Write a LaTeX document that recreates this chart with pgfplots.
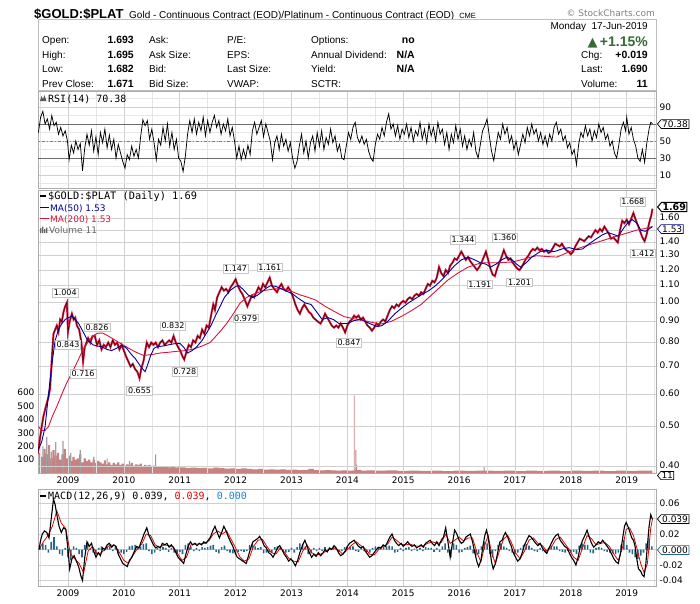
\documentclass[border=0pt]{standalone}
\usepackage{pgfplots}
\pgfplotsset{compat=1.18}
\usepackage{pgfplotstable}
\usepackage{fontspec}
\setmainfont{Liberation Sans}
\newfontfamily\vf{DejaVu Sans}
\newfontfamily\vmono{DejaVu Sans Mono}
\usetikzlibrary{shapes.symbols}
\definecolor{maBlue}{RGB}{0,0,150}
\definecolor{maRed}{RGB}{220,20,60}
\definecolor{pxRed}{RGB}{215,25,60}
\definecolor{volPink}{RGB}{200,130,130}
\definecolor{volGray}{RGB}{160,160,160}
\definecolor{gridc}{RGB}{208,208,208}
\definecolor{gridm}{RGB}{230,230,230}
\definecolor{upGreen}{RGB}{55,105,55}
\definecolor{histc}{RGB}{35,100,135}
\definecolor{sigRed}{RGB}{230,0,0}
\definecolor{zeroBlue}{RGB}{30,130,200}

\pgfplotstableread[row sep=\\]{x y\\
2008.46 0.43\\ 2008.50 0.47\\ 2008.53 0.50\\ 2008.56 0.53\\ 2008.59 0.55\\ 2008.62 0.57\\ 2008.65 0.59\\ 2008.68 0.62\\
2008.71 0.73\\ 2008.74 0.84\\ 2008.77 0.86\\ 2008.80 0.88\\ 2008.83 0.85\\ 2008.86 0.91\\ 2008.89 0.90\\ 2008.92 0.95\\
2008.95 0.98\\ 2008.98 1.00\\ 2009.00 0.85\\ 2009.03 0.90\\ 2009.07 0.94\\ 2009.10 0.91\\ 2009.13 0.92\\ 2009.16 0.88\\
2009.20 0.86\\ 2009.24 0.80\\ 2009.27 0.72\\ 2009.30 0.78\\ 2009.33 0.80\\ 2009.36 0.82\\ 2009.40 0.80\\ 2009.44 0.83\\
2009.48 0.83\\ 2009.52 0.79\\ 2009.56 0.81\\ 2009.60 0.77\\ 2009.64 0.79\\ 2009.68 0.78\\ 2009.72 0.80\\ 2009.76 0.78\\
2009.80 0.81\\ 2009.84 0.79\\ 2009.88 0.80\\ 2009.92 0.77\\ 2009.96 0.79\\ 2010.00 0.765\\ 2010.04 0.74\\ 2010.08 0.72\\
2010.12 0.70\\ 2010.16 0.71\\ 2010.20 0.69\\ 2010.24 0.68\\ 2010.28 0.655\\ 2010.31 0.69\\ 2010.35 0.72\\ 2010.38 0.76\\
2010.41 0.80\\ 2010.45 0.78\\ 2010.49 0.80\\ 2010.53 0.79\\ 2010.57 0.80\\ 2010.61 0.78\\ 2010.65 0.80\\ 2010.69 0.81\\
2010.73 0.79\\ 2010.77 0.80\\ 2010.81 0.81\\ 2010.85 0.80\\ 2010.89 0.83\\ 2010.93 0.80\\ 2010.97 0.78\\ 2011.01 0.765\\
2011.05 0.74\\ 2011.08 0.728\\ 2011.12 0.76\\ 2011.16 0.79\\ 2011.20 0.78\\ 2011.24 0.81\\ 2011.28 0.80\\ 2011.32 0.83\\
2011.36 0.82\\ 2011.40 0.86\\ 2011.44 0.84\\ 2011.48 0.88\\ 2011.52 0.87\\ 2011.56 0.93\\ 2011.60 0.99\\ 2011.63 0.96\\
2011.67 1.03\\ 2011.71 1.06\\ 2011.75 1.09\\ 2011.79 1.07\\ 2011.83 1.08\\ 2011.87 1.06\\ 2011.91 1.09\\ 2011.95 1.11\\
2012.00 1.14\\ 2012.04 1.10\\ 2012.08 1.07\\ 2012.12 1.05\\ 2012.16 1.02\\ 2012.21 0.98\\ 2012.25 1.01\\ 2012.29 1.04\\
2012.33 1.03\\ 2012.37 1.06\\ 2012.41 1.09\\ 2012.45 1.07\\ 2012.49 1.11\\ 2012.53 1.09\\ 2012.57 1.12\\ 2012.61 1.15\\
2012.65 1.10\\ 2012.69 1.08\\ 2012.74 1.06\\ 2012.78 1.09\\ 2012.82 1.11\\ 2012.86 1.08\\ 2012.90 1.07\\ 2012.94 1.09\\
2012.98 1.07\\ 2013.03 1.03\\ 2013.07 0.99\\ 2013.11 0.96\\ 2013.15 0.94\\ 2013.19 0.97\\ 2013.23 0.99\\ 2013.27 0.97\\
2013.31 0.95\\ 2013.35 0.94\\ 2013.39 0.92\\ 2013.43 0.91\\ 2013.47 0.90\\ 2013.52 0.89\\ 2013.56 0.91\\ 2013.60 0.94\\
2013.64 0.92\\ 2013.68 0.90\\ 2013.72 0.88\\ 2013.76 0.87\\ 2013.80 0.88\\ 2013.84 0.87\\ 2013.88 0.89\\ 2013.92 0.87\\
2013.96 0.847\\ 2014.00 0.88\\ 2014.04 0.90\\ 2014.08 0.91\\ 2014.12 0.93\\ 2014.16 0.92\\ 2014.20 0.93\\ 2014.24 0.91\\
2014.28 0.92\\ 2014.32 0.90\\ 2014.36 0.88\\ 2014.40 0.87\\ 2014.44 0.855\\ 2014.48 0.87\\ 2014.52 0.89\\ 2014.56 0.88\\
2014.60 0.90\\ 2014.64 0.91\\ 2014.68 0.90\\ 2014.72 0.93\\ 2014.76 0.96\\ 2014.80 0.98\\ 2014.84 0.97\\ 2014.88 0.99\\
2014.92 0.98\\ 2014.96 1.00\\ 2015.00 1.01\\ 2015.04 1.00\\ 2015.08 1.02\\ 2015.12 1.03\\ 2015.16 1.02\\ 2015.20 1.04\\
2015.24 1.05\\ 2015.28 1.04\\ 2015.32 1.06\\ 2015.36 1.05\\ 2015.40 1.08\\ 2015.44 1.11\\ 2015.48 1.10\\ 2015.52 1.13\\
2015.56 1.12\\ 2015.60 1.15\\ 2015.64 1.22\\ 2015.68 1.18\\ 2015.72 1.16\\ 2015.76 1.20\\ 2015.80 1.18\\ 2015.84 1.23\\
2015.88 1.25\\ 2015.92 1.28\\ 2015.96 1.27\\ 2016.00 1.30\\ 2016.04 1.33\\ 2016.08 1.30\\ 2016.12 1.27\\ 2016.16 1.29\\
2016.20 1.26\\ 2016.24 1.24\\ 2016.28 1.22\\ 2016.32 1.20\\ 2016.36 1.22\\ 2016.40 1.25\\ 2016.44 1.29\\ 2016.48 1.33\\
2016.52 1.27\\ 2016.56 1.21\\ 2016.60 1.17\\ 2016.64 1.16\\ 2016.68 1.21\\ 2016.72 1.25\\ 2016.76 1.29\\ 2016.80 1.34\\
2016.84 1.30\\ 2016.88 1.27\\ 2016.92 1.28\\ 2016.96 1.25\\ 2017.00 1.23\\ 2017.04 1.21\\ 2017.08 1.20\\ 2017.12 1.22\\
2017.16 1.25\\ 2017.20 1.28\\ 2017.24 1.30\\ 2017.28 1.33\\ 2017.32 1.35\\ 2017.36 1.34\\ 2017.40 1.36\\ 2017.44 1.34\\
2017.48 1.35\\ 2017.52 1.33\\ 2017.56 1.34\\ 2017.60 1.32\\ 2017.64 1.33\\ 2017.68 1.36\\ 2017.72 1.39\\ 2017.76 1.38\\
2017.80 1.37\\ 2017.84 1.39\\ 2017.88 1.36\\ 2017.92 1.34\\ 2017.96 1.33\\ 2018.00 1.31\\ 2018.04 1.33\\ 2018.08 1.37\\
2018.12 1.40\\ 2018.16 1.43\\ 2018.20 1.42\\ 2018.24 1.41\\ 2018.28 1.43\\ 2018.32 1.45\\ 2018.36 1.44\\ 2018.40 1.47\\
2018.44 1.50\\ 2018.48 1.48\\ 2018.52 1.51\\ 2018.56 1.49\\ 2018.60 1.53\\ 2018.64 1.50\\ 2018.68 1.47\\ 2018.72 1.43\\
2018.76 1.44\\ 2018.80 1.42\\ 2018.84 1.40\\ 2018.88 1.50\\ 2018.92 1.58\\ 2018.96 1.56\\ 2019.00 1.59\\ 2019.04 1.55\\
2019.08 1.60\\ 2019.12 1.65\\ 2019.16 1.59\\ 2019.20 1.54\\ 2019.24 1.49\\ 2019.28 1.44\\ 2019.32 1.41\\ 2019.36 1.47\\
2019.40 1.56\\ 2019.44 1.63\\ 2019.46 1.69\\
}\price

\pgfplotstableread[row sep=\\]{x y\\
2008.47 0.44\\ 2008.53 0.46\\ 2008.59 0.50\\ 2008.64 0.58\\ 2008.68 0.65\\ 2008.73 0.74\\ 2008.77 0.81\\ 2008.83 0.86\\
2008.89 0.89\\ 2008.95 0.91\\ 2009.01 0.92\\ 2009.07 0.928\\ 2009.13 0.91\\ 2009.19 0.89\\ 2009.27 0.85\\ 2009.35 0.81\\
2009.45 0.79\\ 2009.52 0.785\\ 2009.60 0.782\\ 2009.70 0.77\\ 2009.78 0.765\\ 2009.87 0.775\\ 2009.96 0.79\\ 2010.05 0.775\\
2010.13 0.75\\ 2010.21 0.73\\ 2010.30 0.70\\ 2010.38 0.68\\ 2010.43 0.71\\ 2010.48 0.745\\ 2010.54 0.775\\ 2010.60 0.782\\
2010.70 0.785\\ 2010.80 0.79\\ 2010.90 0.795\\ 2011.00 0.797\\ 2011.07 0.78\\ 2011.14 0.755\\ 2011.22 0.765\\ 2011.30 0.78\\
2011.40 0.81\\ 2011.48 0.844\\ 2011.56 0.88\\ 2011.64 0.93\\ 2011.72 0.978\\ 2011.80 1.03\\ 2011.90 1.07\\ 2012.00 1.095\\
2012.06 1.10\\ 2012.14 1.075\\ 2012.22 1.045\\ 2012.30 1.03\\ 2012.38 1.04\\ 2012.46 1.06\\ 2012.55 1.085\\ 2012.63 1.10\\
2012.72 1.095\\ 2012.82 1.08\\ 2012.92 1.065\\ 2013.02 1.05\\ 2013.12 1.025\\ 2013.25 0.998\\ 2013.35 0.99\\ 2013.45 0.95\\
2013.55 0.91\\ 2013.65 0.92\\ 2013.75 0.91\\ 2013.85 0.89\\ 2014.00 0.89\\ 2014.12 0.905\\ 2014.25 0.91\\ 2014.40 0.89\\
2014.53 0.875\\ 2014.62 0.88\\ 2014.72 0.90\\ 2014.85 0.94\\ 2014.97 0.97\\ 2015.10 1.00\\ 2015.25 1.03\\ 2015.35 1.05\\
2015.46 1.07\\ 2015.58 1.10\\ 2015.70 1.14\\ 2015.80 1.18\\ 2015.92 1.23\\ 2016.04 1.27\\ 2016.16 1.29\\ 2016.28 1.27\\
2016.38 1.25\\ 2016.48 1.24\\ 2016.56 1.22\\ 2016.66 1.24\\ 2016.76 1.27\\ 2016.86 1.29\\ 2016.95 1.27\\ 2017.03 1.24\\
2017.10 1.22\\ 2017.20 1.25\\ 2017.30 1.29\\ 2017.45 1.33\\ 2017.57 1.34\\ 2017.70 1.33\\ 2017.84 1.35\\ 2017.97 1.36\\
2018.10 1.345\\ 2018.21 1.35\\ 2018.33 1.39\\ 2018.46 1.43\\ 2018.56 1.46\\ 2018.66 1.48\\ 2018.76 1.465\\ 2018.85 1.45\\
2018.95 1.52\\ 2019.03 1.57\\ 2019.10 1.59\\ 2019.18 1.56\\ 2019.25 1.50\\ 2019.33 1.49\\ 2019.40 1.51\\ 2019.46 1.53\\
}\maf

\pgfplotstableread[row sep=\\]{x y\\
2008.47 0.50\\ 2008.53 0.49\\ 2008.59 0.49\\ 2008.65 0.50\\ 2008.72 0.53\\ 2008.80 0.56\\ 2008.89 0.60\\ 2008.98 0.64\\
2009.07 0.675\\ 2009.17 0.72\\ 2009.27 0.77\\ 2009.35 0.80\\ 2009.44 0.83\\ 2009.53 0.843\\ 2009.62 0.844\\ 2009.72 0.83\\
2009.85 0.81\\ 2009.95 0.795\\ 2010.05 0.78\\ 2010.20 0.76\\ 2010.35 0.745\\ 2010.50 0.748\\ 2010.65 0.755\\ 2010.80 0.758\\
2010.95 0.762\\ 2011.10 0.765\\ 2011.25 0.772\\ 2011.40 0.785\\ 2011.54 0.80\\ 2011.65 0.83\\ 2011.75 0.86\\ 2011.84 0.89\\
2011.96 0.94\\ 2012.08 0.998\\ 2012.20 1.03\\ 2012.33 1.05\\ 2012.50 1.07\\ 2012.70 1.08\\ 2012.86 1.08\\ 2013.00 1.065\\
2013.15 1.045\\ 2013.30 1.03\\ 2013.43 1.015\\ 2013.60 0.98\\ 2013.78 0.95\\ 2013.94 0.925\\ 2014.10 0.915\\ 2014.30 0.905\\
2014.45 0.895\\ 2014.60 0.888\\ 2014.78 0.90\\ 2014.96 0.925\\ 2015.14 0.955\\ 2015.32 0.99\\ 2015.56 1.06\\ 2015.80 1.135\\
2015.98 1.18\\ 2016.16 1.22\\ 2016.40 1.25\\ 2016.70 1.25\\ 2016.95 1.255\\ 2017.15 1.275\\ 2017.38 1.30\\ 2017.55 1.295\\
2017.75 1.29\\ 2017.92 1.32\\ 2018.10 1.35\\ 2018.28 1.375\\ 2018.46 1.40\\ 2018.64 1.425\\ 2018.82 1.45\\ 2019.00 1.475\\
2019.18 1.50\\ 2019.34 1.515\\ 2019.46 1.53\\
}\mat

\pgfplotstableread[row sep=\\]{x y\\
2008.48 150\\ 2008.52 120\\ 2008.56 180\\ 2008.60 140\\ 2008.64 210\\ 2008.68 110\\ 2008.72 170\\ 2008.76 130\\
2008.80 150\\ 2008.84 100\\ 2008.88 140\\ 2008.92 180\\ 2008.96 110\\ 2009.00 130\\ 2009.04 90\\ 2009.08 120\\
2009.12 100\\ 2009.16 110\\ 2009.20 140\\ 2009.24 80\\ 2009.28 110\\ 2009.32 90\\ 2009.36 100\\ 2009.40 80\\
2009.44 100\\ 2009.48 75\\ 2009.52 90\\ 2009.56 80\\ 2009.60 70\\ 2009.64 95\\ 2009.68 65\\ 2009.72 80\\
2009.76 60\\ 2009.80 75\\ 2009.84 65\\ 2009.88 80\\ 2009.92 60\\ 2009.96 70\\ 2010.00 55\\ 2010.04 65\\
2010.08 60\\ 2010.12 75\\ 2010.16 55\\ 2010.20 65\\ 2010.24 60\\ 2010.28 70\\ 2010.32 50\\ 2010.36 60\\
2010.40 55\\ 2010.44 60\\ 2010.48 50\\ 2010.52 55\\ 2010.56 140\\ 2010.575 50\\ 2010.64 45\\ 2010.68 50\\
2010.72 45\\ 2010.76 48\\ 2010.80 42\\ 2010.84 46\\ 2010.88 44\\ 2010.92 40\\ 2010.96 45\\ 2011.00 42\\
2011.10 38\\ 2011.20 40\\ 2011.30 36\\ 2011.40 38\\ 2011.50 34\\ 2011.60 40\\ 2011.70 36\\ 2011.80 32\\
2011.90 35\\ 2012.00 30\\ 2012.10 34\\ 2012.20 30\\ 2012.30 28\\ 2012.40 30\\ 2012.50 26\\ 2012.60 28\\
2012.70 25\\ 2012.80 27\\ 2012.90 24\\ 2013.00 26\\ 2013.10 22\\ 2013.20 24\\ 2013.30 30\\ 2013.40 22\\
2013.50 20\\ 2013.60 22\\ 2013.70 20\\ 2013.80 18\\ 2013.90 20\\ 2014.00 18\\ 2014.10 20\\ 2014.115 580\\
2014.13 20\\ 2014.145 170\\ 2014.16 60\\ 2014.175 22\\ 2014.25 18\\ 2014.35 20\\ 2014.50 17\\ 2014.70 19\\
2014.90 16\\ 2015.10 18\\ 2015.30 16\\ 2015.50 18\\ 2015.70 15\\ 2015.90 17\\ 2016.10 16\\ 2016.30 18\\
2016.44 52\\ 2016.455 17\\ 2016.60 16\\ 2016.80 18\\ 2017.00 15\\ 2017.20 17\\ 2017.40 16\\ 2017.60 18\\
2017.80 15\\ 2018.00 17\\ 2018.20 16\\ 2018.40 18\\ 2018.60 15\\ 2018.80 17\\ 2019.00 16\\ 2019.20 18\\
2019.46 17\\
}\vol

\pgfplotstableread[row sep=\\]{x y\\
2008.55 200\\ 2008.62 270\\ 2008.66 170\\ 2008.70 160\\ 2008.78 230\\ 2008.91 240\\ 2009.05 150\\ 2009.22 170\\
2009.46 120\\ 2009.70 110\\ 2010.10 90\\
}\volg

\pgfplotstableread[row sep=\\]{x y\\
2008.47 60\\ 2008.51 78\\ 2008.55 85\\ 2008.59 70\\ 2008.63 76\\ 2008.67 64\\ 2008.71 80\\ 2008.75 68\\
2008.79 72\\ 2008.83 58\\ 2008.87 66\\ 2008.91 56\\ 2008.95 62\\ 2008.99 50\\ 2009.02 28\\ 2009.06 45\\
2009.10 36\\ 2009.14 50\\ 2009.18 40\\ 2009.22 47\\ 2009.26 15\\ 2009.30 42\\ 2009.34 58\\ 2009.38 45\\
2009.42 62\\ 2009.46 38\\ 2009.50 55\\ 2009.54 34\\ 2009.58 60\\ 2009.62 48\\ 2009.66 64\\ 2009.70 42\\
2009.74 57\\ 2009.78 40\\ 2009.82 52\\ 2009.86 30\\ 2009.90 46\\ 2009.94 36\\ 2009.98 26\\ 2010.02 18\\
2010.06 34\\ 2010.10 28\\ 2010.14 44\\ 2010.18 32\\ 2010.22 40\\ 2010.26 30\\ 2010.30 55\\ 2010.34 75\\
2010.38 68\\ 2010.42 74\\ 2010.46 52\\ 2010.50 64\\ 2010.54 48\\ 2010.58 28\\ 2010.62 52\\ 2010.66 45\\
2010.70 66\\ 2010.74 50\\ 2010.78 70\\ 2010.82 44\\ 2010.86 60\\ 2010.90 40\\ 2010.94 52\\ 2010.98 30\\
2011.02 26\\ 2011.06 14\\ 2011.10 32\\ 2011.14 58\\ 2011.18 74\\ 2011.22 60\\ 2011.26 76\\ 2011.30 58\\
2011.34 72\\ 2011.38 62\\ 2011.42 78\\ 2011.46 56\\ 2011.50 74\\ 2011.54 60\\ 2011.58 72\\ 2011.62 80\\
2011.66 66\\ 2011.70 74\\ 2011.74 58\\ 2011.78 70\\ 2011.82 62\\ 2011.86 76\\ 2011.90 56\\ 2011.94 66\\
2011.98 50\\ 2012.02 30\\ 2012.06 44\\ 2012.10 28\\ 2012.14 40\\ 2012.18 30\\ 2012.22 45\\ 2012.26 34\\
2012.30 62\\ 2012.34 72\\ 2012.38 58\\ 2012.42 66\\ 2012.46 74\\ 2012.50 55\\ 2012.54 70\\ 2012.58 60\\
2012.62 50\\ 2012.66 28\\ 2012.70 48\\ 2012.74 56\\ 2012.78 40\\ 2012.82 58\\ 2012.86 44\\ 2012.90 52\\
2012.94 38\\ 2012.98 48\\ 2013.02 30\\ 2013.06 18\\ 2013.10 26\\ 2013.14 44\\ 2013.18 58\\ 2013.22 36\\
2013.26 50\\ 2013.30 30\\ 2013.34 48\\ 2013.38 56\\ 2013.42 38\\ 2013.46 60\\ 2013.50 44\\ 2013.54 62\\
2013.58 40\\ 2013.62 54\\ 2013.66 46\\ 2013.70 64\\ 2013.74 48\\ 2013.78 56\\ 2013.82 38\\ 2013.86 46\\
2013.90 30\\ 2013.94 28\\ 2013.98 44\\ 2014.02 60\\ 2014.06 52\\ 2014.10 66\\ 2014.14 72\\ 2014.18 54\\
2014.22 48\\ 2014.26 56\\ 2014.30 46\\ 2014.34 52\\ 2014.38 38\\ 2014.42 30\\ 2014.46 26\\ 2014.50 46\\
2014.54 58\\ 2014.58 52\\ 2014.62 66\\ 2014.66 56\\ 2014.70 72\\ 2014.74 82\\ 2014.78 64\\ 2014.82 70\\
2014.86 56\\ 2014.90 68\\ 2014.94 52\\ 2014.98 64\\ 2015.02 58\\ 2015.06 70\\ 2015.10 54\\ 2015.14 66\\
2015.18 50\\ 2015.22 62\\ 2015.26 56\\ 2015.30 72\\ 2015.34 52\\ 2015.38 64\\ 2015.42 48\\ 2015.46 70\\
2015.50 56\\ 2015.54 66\\ 2015.58 50\\ 2015.62 72\\ 2015.66 58\\ 2015.70 64\\ 2015.74 46\\ 2015.78 60\\
2015.82 40\\ 2015.86 58\\ 2015.90 48\\ 2015.94 68\\ 2015.98 52\\ 2016.02 64\\ 2016.06 44\\ 2016.10 56\\
2016.14 40\\ 2016.18 52\\ 2016.22 44\\ 2016.26 60\\ 2016.30 38\\ 2016.34 30\\ 2016.38 46\\ 2016.42 62\\
2016.46 68\\ 2016.50 76\\ 2016.54 56\\ 2016.58 38\\ 2016.62 27\\ 2016.66 44\\ 2016.70 60\\ 2016.74 52\\
2016.78 70\\ 2016.82 58\\ 2016.86 66\\ 2016.90 48\\ 2016.94 56\\ 2016.98 40\\ 2017.02 50\\ 2017.06 34\\
2017.10 46\\ 2017.14 58\\ 2017.18 48\\ 2017.22 66\\ 2017.26 56\\ 2017.30 70\\ 2017.34 58\\ 2017.38 64\\
2017.42 50\\ 2017.46 60\\ 2017.50 46\\ 2017.54 56\\ 2017.58 44\\ 2017.62 58\\ 2017.66 50\\ 2017.70 66\\
2017.74 72\\ 2017.78 58\\ 2017.82 64\\ 2017.86 50\\ 2017.90 56\\ 2017.94 42\\ 2017.98 48\\ 2018.02 34\\
2018.06 40\\ 2018.10 22\\ 2018.14 46\\ 2018.18 60\\ 2018.22 54\\ 2018.26 68\\ 2018.30 56\\ 2018.34 64\\
2018.38 50\\ 2018.42 62\\ 2018.46 54\\ 2018.50 70\\ 2018.54 60\\ 2018.58 66\\ 2018.62 52\\ 2018.66 58\\
2018.70 44\\ 2018.74 50\\ 2018.78 36\\ 2018.82 30\\ 2018.86 46\\ 2018.90 64\\ 2018.94 72\\ 2018.98 62\\
2019.00 78\\ 2019.04 58\\ 2019.08 66\\ 2019.12 52\\ 2019.16 44\\ 2019.20 30\\ 2019.24 26\\ 2019.28 40\\
2019.32 25\\ 2019.36 48\\ 2019.40 64\\ 2019.43 72\\ 2019.46 70.38\\
}\rsi

\pgfplotstableread[row sep=\\]{x y\\
2008.48 0.000\\ 2008.51 0.012\\ 2008.54 0.020\\ 2008.58 0.024\\ 2008.62 0.022\\ 2008.66 0.015\\ 2008.70 0.040\\ 2008.74 0.065\\
2008.77 0.058\\ 2008.80 0.045\\ 2008.84 0.030\\ 2008.88 0.022\\ 2008.92 0.028\\ 2008.96 0.026\\ 2009.00 0.000\\ 2009.03 -0.025\\
2009.07 -0.012\\ 2009.11 -0.008\\ 2009.15 -0.015\\ 2009.19 -0.022\\ 2009.23 -0.034\\ 2009.26 -0.040\\ 2009.30 -0.010\\ 2009.34 0.010\\
2009.38 0.004\\ 2009.42 0.008\\ 2009.46 -0.002\\ 2009.50 -0.010\\ 2009.54 -0.004\\ 2009.58 -0.008\\ 2009.62 0.002\\ 2009.66 0.000\\
2009.70 0.006\\ 2009.74 0.008\\ 2009.78 0.003\\ 2009.82 0.006\\ 2009.86 0.004\\ 2009.90 -0.006\\ 2009.94 -0.012\\ 2009.98 -0.018\\
2010.02 -0.020\\ 2010.06 -0.022\\ 2010.10 -0.014\\ 2010.14 -0.010\\ 2010.19 -0.002\\ 2010.23 0.004\\ 2010.27 0.002\\ 2010.31 0.010\\
2010.36 0.020\\ 2010.41 0.028\\ 2010.45 0.018\\ 2010.49 0.012\\ 2010.53 0.006\\ 2010.57 0.002\\ 2010.61 0.004\\ 2010.65 0.002\\
2010.69 0.008\\ 2010.73 0.006\\ 2010.77 0.008\\ 2010.81 0.003\\ 2010.85 0.006\\ 2010.89 0.002\\ 2010.93 -0.004\\ 2010.97 -0.010\\
2011.02 -0.014\\ 2011.07 -0.018\\ 2011.11 -0.006\\ 2011.15 0.004\\ 2011.19 0.010\\ 2011.23 0.006\\ 2011.27 0.008\\ 2011.31 0.005\\
2011.35 0.008\\ 2011.39 0.006\\ 2011.43 0.010\\ 2011.47 0.008\\ 2011.51 0.012\\ 2011.55 0.016\\ 2011.59 0.024\\ 2011.63 0.030\\
2011.67 0.022\\ 2011.71 0.015\\ 2011.75 0.022\\ 2011.79 0.030\\ 2011.83 0.024\\ 2011.87 0.016\\ 2011.91 0.010\\ 2011.95 0.004\\
2011.99 -0.004\\ 2012.03 -0.010\\ 2012.07 -0.012\\ 2012.11 -0.014\\ 2012.15 -0.016\\ 2012.19 -0.018\\ 2012.23 -0.008\\ 2012.27 0.002\\
2012.31 0.010\\ 2012.35 0.012\\ 2012.39 0.014\\ 2012.43 0.017\\ 2012.47 0.012\\ 2012.51 0.005\\ 2012.55 0.002\\ 2012.59 -0.004\\
2012.63 -0.006\\ 2012.67 -0.010\\ 2012.71 -0.004\\ 2012.75 0.002\\ 2012.79 0.005\\ 2012.83 0.000\\ 2012.87 -0.006\\ 2012.91 -0.010\\
2012.95 -0.015\\ 2012.99 -0.012\\ 2013.03 -0.016\\ 2013.07 -0.021\\ 2013.11 -0.014\\ 2013.15 -0.004\\ 2013.20 0.006\\ 2013.24 0.012\\
2013.28 0.004\\ 2013.32 -0.004\\ 2013.36 -0.010\\ 2013.40 -0.006\\ 2013.44 -0.009\\ 2013.48 -0.004\\ 2013.52 -0.008\\ 2013.56 -0.005\\
2013.60 0.000\\ 2013.64 -0.003\\ 2013.68 0.002\\ 2013.72 0.000\\ 2013.76 0.005\\ 2013.80 0.002\\ 2013.84 -0.004\\ 2013.88 -0.008\\
2013.92 -0.006\\ 2013.96 -0.002\\ 2014.00 0.004\\ 2014.04 0.008\\ 2014.08 0.010\\ 2014.12 0.012\\ 2014.16 0.008\\ 2014.20 0.004\\
2014.24 0.002\\ 2014.28 0.004\\ 2014.32 -0.002\\ 2014.36 -0.006\\ 2014.40 -0.010\\ 2014.44 -0.008\\ 2014.48 -0.004\\ 2014.52 0.000\\
2014.56 0.003\\ 2014.60 0.002\\ 2014.64 0.006\\ 2014.68 0.004\\ 2014.72 0.010\\ 2014.76 0.016\\ 2014.80 0.020\\ 2014.84 0.012\\
2014.88 0.008\\ 2014.92 0.005\\ 2014.96 0.008\\ 2015.00 0.004\\ 2015.04 0.007\\ 2015.08 0.010\\ 2015.12 0.006\\ 2015.16 0.004\\
2015.20 0.006\\ 2015.24 0.002\\ 2015.28 0.004\\ 2015.32 0.006\\ 2015.36 0.003\\ 2015.40 0.008\\ 2015.44 0.010\\ 2015.48 0.012\\
2015.52 0.008\\ 2015.56 0.005\\ 2015.60 0.010\\ 2015.64 0.005\\ 2015.68 0.012\\ 2015.72 0.016\\ 2015.76 0.028\\ 2015.80 0.010\\
2015.84 -0.010\\ 2015.88 0.008\\ 2015.92 0.025\\ 2015.96 0.020\\ 2016.00 0.012\\ 2016.04 0.008\\ 2016.08 0.010\\ 2016.12 0.016\\
2016.16 0.018\\ 2016.20 0.020\\ 2016.24 0.010\\ 2016.28 -0.004\\ 2016.32 -0.016\\ 2016.35 -0.022\\ 2016.39 -0.014\\ 2016.43 0.006\\
2016.46 0.018\\ 2016.49 0.025\\ 2016.52 0.016\\ 2016.55 0.000\\ 2016.58 -0.016\\ 2016.61 -0.025\\ 2016.65 -0.018\\ 2016.69 -0.004\\
2016.73 0.010\\ 2016.77 0.012\\ 2016.80 0.018\\ 2016.83 0.022\\ 2016.87 0.016\\ 2016.90 0.010\\ 2016.93 0.005\\ 2016.97 -0.004\\
2017.01 -0.010\\ 2017.05 -0.015\\ 2017.09 -0.012\\ 2017.13 -0.004\\ 2017.17 0.006\\ 2017.21 0.012\\ 2017.25 0.018\\ 2017.29 0.016\\
2017.33 0.012\\ 2017.37 0.008\\ 2017.41 0.005\\ 2017.45 0.008\\ 2017.49 0.002\\ 2017.53 -0.002\\ 2017.57 -0.005\\ 2017.61 0.002\\
2017.65 0.008\\ 2017.69 0.014\\ 2017.73 0.018\\ 2017.77 0.020\\ 2017.81 0.012\\ 2017.85 0.008\\ 2017.89 0.004\\ 2017.93 0.002\\
2017.97 -0.004\\ 2018.01 -0.010\\ 2018.05 -0.014\\ 2018.09 -0.020\\ 2018.13 -0.010\\ 2018.17 0.004\\ 2018.21 0.012\\ 2018.25 0.018\\
2018.29 0.025\\ 2018.33 0.016\\ 2018.37 0.008\\ 2018.41 0.003\\ 2018.45 0.006\\ 2018.49 0.010\\ 2018.53 0.008\\ 2018.57 0.012\\
2018.61 0.008\\ 2018.65 0.004\\ 2018.69 0.000\\ 2018.73 -0.006\\ 2018.77 -0.012\\ 2018.81 -0.016\\ 2018.85 -0.018\\ 2018.89 -0.004\\
2018.93 0.016\\ 2018.96 0.030\\ 2018.99 0.035\\ 2019.02 0.030\\ 2019.05 0.024\\ 2019.09 0.015\\ 2019.12 0.012\\ 2019.15 0.004\\
2019.18 -0.012\\ 2019.21 -0.025\\ 2019.25 -0.028\\ 2019.28 -0.033\\ 2019.31 -0.035\\ 2019.34 -0.020\\ 2019.37 0.005\\ 2019.40 0.030\\
2019.43 0.045\\ 2019.46 0.039\\
}\macd

\pgfplotstableread[row sep=\\]{x y\\
2008.48 0.000\\ 2008.56 0.010\\ 2008.64 0.018\\ 2008.72 0.030\\ 2008.80 0.050\\ 2008.88 0.034\\ 2008.96 0.027\\ 2009.04 -0.005\\
2009.12 -0.012\\ 2009.20 -0.018\\ 2009.28 -0.030\\ 2009.36 -0.002\\ 2009.44 0.004\\ 2009.52 -0.006\\ 2009.60 -0.004\\ 2009.68 0.002\\
2009.76 0.006\\ 2009.84 0.005\\ 2009.92 -0.004\\ 2010.00 -0.014\\ 2010.08 -0.018\\ 2010.16 -0.008\\ 2010.24 0.001\\ 2010.32 0.007\\
2010.40 0.020\\ 2010.48 0.018\\ 2010.56 0.006\\ 2010.64 0.003\\ 2010.72 0.006\\ 2010.80 0.005\\ 2010.88 0.004\\ 2010.96 -0.005\\
2011.04 -0.014\\ 2011.12 -0.010\\ 2011.20 0.006\\ 2011.28 0.007\\ 2011.36 0.007\\ 2011.44 0.008\\ 2011.52 0.011\\ 2011.60 0.020\\
2011.68 0.024\\ 2011.76 0.020\\ 2011.84 0.024\\ 2011.92 0.013\\ 2012.00 0.002\\ 2012.08 -0.010\\ 2012.16 -0.015\\ 2012.24 -0.012\\
2012.32 0.004\\ 2012.40 0.012\\ 2012.48 0.013\\ 2012.56 0.004\\ 2012.64 -0.004\\ 2012.72 -0.006\\ 2012.80 0.002\\ 2012.88 -0.004\\
2012.96 -0.012\\ 2013.04 -0.015\\ 2013.12 -0.016\\ 2013.20 -0.002\\ 2013.28 0.006\\ 2013.36 -0.004\\ 2013.44 -0.007\\ 2013.52 -0.006\\
2013.60 -0.003\\ 2013.68 0.000\\ 2013.76 0.002\\ 2013.84 -0.001\\ 2013.92 -0.006\\ 2014.00 0.000\\ 2014.08 0.006\\ 2014.16 0.010\\
2014.24 0.005\\ 2014.32 0.001\\ 2014.40 -0.006\\ 2014.48 -0.007\\ 2014.56 0.000\\ 2014.64 0.004\\ 2014.72 0.007\\ 2014.80 0.016\\
2014.88 0.012\\ 2014.96 0.007\\ 2015.04 0.006\\ 2015.12 0.007\\ 2015.20 0.005\\ 2015.28 0.004\\ 2015.36 0.005\\ 2015.44 0.008\\
2015.52 0.010\\ 2015.60 0.008\\ 2015.68 0.009\\ 2015.76 0.020\\ 2015.84 0.008\\ 2015.92 0.012\\ 2016.00 0.016\\ 2016.08 0.011\\
2016.16 0.015\\ 2016.24 0.015\\ 2016.32 -0.004\\ 2016.39 -0.016\\ 2016.46 0.006\\ 2016.52 0.018\\ 2016.58 -0.004\\ 2016.65 -0.018\\
2016.73 0.000\\ 2016.80 0.014\\ 2016.87 0.018\\ 2016.93 0.010\\ 2017.01 -0.004\\ 2017.09 -0.012\\ 2017.17 -0.002\\ 2017.25 0.012\\
2017.33 0.015\\ 2017.41 0.008\\ 2017.49 0.005\\ 2017.57 -0.002\\ 2017.65 0.003\\ 2017.73 0.013\\ 2017.81 0.016\\ 2017.89 0.008\\
2017.97 0.000\\ 2018.05 -0.010\\ 2018.13 -0.014\\ 2018.21 0.002\\ 2018.29 0.018\\ 2018.37 0.014\\ 2018.45 0.006\\ 2018.53 0.008\\
2018.61 0.009\\ 2018.69 0.004\\ 2018.77 -0.006\\ 2018.85 -0.014\\ 2018.93 0.004\\ 2018.99 0.026\\ 2019.05 0.028\\ 2019.12 0.018\\
2019.18 0.002\\ 2019.25 -0.018\\ 2019.31 -0.030\\ 2019.37 -0.018\\ 2019.43 0.028\\ 2019.46 0.039\\
}\sig

\pgfplotstableread[row sep=\\]{x y\\
2008.50 0.004\\ 2008.55 0.008\\ 2008.60 0.006\\ 2008.65 -0.004\\ 2008.70 0.010\\ 2008.75 0.016\\ 2008.80 0.004\\ 2008.85 -0.006\\
2008.90 -0.008\\ 2008.95 0.002\\ 2009.00 -0.010\\ 2009.05 -0.014\\ 2009.10 0.004\\ 2009.15 0.002\\ 2009.20 -0.006\\ 2009.25 -0.010\\
2009.30 0.006\\ 2009.35 0.010\\ 2009.40 0.002\\ 2009.45 -0.004\\ 2009.50 -0.006\\ 2009.55 0.002\\ 2009.60 0.004\\ 2009.65 -0.002\\
2009.70 0.003\\ 2009.75 0.004\\ 2009.80 -0.002\\ 2009.85 0.003\\ 2009.90 -0.005\\ 2009.95 -0.004\\ 2010.00 -0.006\\ 2010.05 -0.003\\
2010.10 0.004\\ 2010.15 0.005\\ 2010.20 0.006\\ 2010.25 0.002\\ 2010.30 0.004\\ 2010.35 0.007\\ 2010.40 0.008\\ 2010.45 -0.002\\
2010.50 -0.006\\ 2010.55 -0.004\\ 2010.60 0.002\\ 2010.65 -0.002\\ 2010.70 0.003\\ 2010.75 0.002\\ 2010.80 -0.003\\ 2010.85 0.002\\
2010.90 -0.004\\ 2010.95 -0.005\\ 2011.00 -0.003\\ 2011.05 -0.006\\ 2011.10 0.006\\ 2011.15 0.008\\ 2011.20 0.004\\ 2011.25 -0.002\\
2011.30 0.002\\ 2011.35 -0.002\\ 2011.40 0.003\\ 2011.45 0.002\\ 2011.50 0.003\\ 2011.55 0.005\\ 2011.60 0.006\\ 2011.65 -0.003\\
2011.70 -0.005\\ 2011.75 0.003\\ 2011.80 0.005\\ 2011.85 -0.002\\ 2011.90 -0.004\\ 2011.95 -0.005\\ 2012.00 -0.006\\ 2012.05 -0.003\\
2012.10 -0.002\\ 2012.15 -0.003\\ 2012.20 -0.002\\ 2012.25 0.006\\ 2012.30 0.008\\ 2012.35 0.004\\ 2012.40 0.002\\ 2012.45 0.003\\
2012.50 -0.005\\ 2012.55 -0.004\\ 2012.60 -0.003\\ 2012.65 -0.004\\ 2012.70 0.003\\ 2012.75 0.004\\ 2012.80 0.003\\ 2012.85 -0.003\\
2012.90 -0.004\\ 2012.95 -0.003\\ 2013.00 0.002\\ 2013.05 -0.004\\ 2013.10 0.003\\ 2013.15 0.008\\ 2013.20 0.007\\ 2013.25 0.004\\
2013.30 -0.006\\ 2013.35 -0.005\\ 2013.40 0.002\\ 2013.45 -0.002\\ 2013.50 0.002\\ 2013.55 -0.002\\ 2013.60 0.003\\ 2013.65 -0.002\\
2013.70 0.002\\ 2013.75 0.003\\ 2013.80 0.001\\ 2013.85 -0.003\\ 2013.90 -0.002\\ 2013.95 0.003\\ 2014.00 0.004\\ 2014.05 0.003\\
2014.10 0.004\\ 2014.15 -0.002\\ 2014.20 -0.003\\ 2014.25 0.002\\ 2014.30 -0.002\\ 2014.35 -0.003\\ 2014.40 -0.004\\ 2014.45 0.002\\
2014.50 0.004\\ 2014.55 0.003\\ 2014.60 0.002\\ 2014.65 0.003\\ 2014.70 0.004\\ 2014.75 0.005\\ 2014.80 0.004\\ 2014.85 -0.004\\
2014.90 -0.003\\ 2014.95 0.002\\ 2015.00 -0.002\\ 2015.05 0.002\\ 2015.10 0.003\\ 2015.15 -0.002\\ 2015.20 0.001\\ 2015.25 -0.002\\
2015.30 0.002\\ 2015.35 -0.002\\ 2015.40 0.003\\ 2015.45 0.002\\ 2015.50 0.002\\ 2015.55 -0.003\\ 2015.60 0.002\\ 2015.65 -0.003\\
2015.70 0.004\\ 2015.75 0.008\\ 2015.80 -0.004\\ 2015.85 -0.010\\ 2015.90 0.008\\ 2015.95 0.006\\ 2016.00 -0.004\\ 2016.05 -0.003\\
2016.10 0.002\\ 2016.15 0.003\\ 2016.20 0.005\\ 2016.25 -0.005\\ 2016.30 -0.008\\ 2016.35 -0.006\\ 2016.40 0.004\\ 2016.45 0.010\\
2016.50 0.008\\ 2016.55 -0.006\\ 2016.60 -0.010\\ 2016.65 -0.002\\ 2016.70 0.006\\ 2016.75 0.008\\ 2016.80 0.004\\ 2016.85 0.002\\
2016.90 -0.002\\ 2016.95 -0.004\\ 2017.00 -0.006\\ 2017.05 -0.004\\ 2017.10 0.002\\ 2017.15 0.006\\ 2017.20 0.007\\ 2017.25 0.005\\
2017.30 0.002\\ 2017.35 -0.002\\ 2017.40 -0.003\\ 2017.45 0.002\\ 2017.50 -0.002\\ 2017.55 -0.004\\ 2017.60 0.002\\ 2017.65 0.005\\
2017.70 0.004\\ 2017.75 0.004\\ 2017.80 -0.002\\ 2017.85 -0.003\\ 2017.90 -0.004\\ 2017.95 -0.002\\ 2018.00 -0.004\\ 2018.05 -0.003\\
2018.10 -0.006\\ 2018.15 0.005\\ 2018.20 0.008\\ 2018.25 0.006\\ 2018.30 0.006\\ 2018.35 -0.004\\ 2018.40 -0.005\\ 2018.45 0.002\\
2018.50 0.003\\ 2018.55 0.002\\ 2018.60 -0.002\\ 2018.65 -0.003\\ 2018.70 -0.004\\ 2018.75 -0.005\\ 2018.80 -0.006\\ 2018.85 -0.004\\
2018.90 0.006\\ 2018.95 0.012\\ 2019.00 0.006\\ 2019.05 -0.004\\ 2019.10 -0.006\\ 2019.15 -0.010\\ 2019.20 -0.012\\ 2019.25 -0.008\\
2019.30 -0.004\\ 2019.35 0.008\\ 2019.40 0.014\\ 2019.45 0.004\\
}\hist

\pgfplotsset{
  panel/.style={
    scale only axis, width=618pt, xmin=2008.463, xmax=2019.524,
    axis line style={draw=gray!65, line width=0.6pt},
    xtick={2009,2010,2011,2012,2013,2014,2015,2016,2017,2018,2019},
    minor xtick={2008.5,2009.5,2010.5,2011.5,2012.5,2013.5,2014.5,2015.5,2016.5,2017.5,2018.5,2019.5},
    xmajorgrids, xminorgrids, ymajorgrids,
    major grid style={draw=gridc, line width=0.6pt},
    minor grid style={draw=gridm, line width=0.5pt},
    tick style={draw=none},
    ticklabel style={font=\vf\fontsize{9}{10}\selectfont},
    /pgf/number format/assume math mode=true,
    scaled y ticks=false,
    yticklabel pos=right,
  },
}
\tikzset{
  ann/.style={draw=gray!45, fill=white, inner sep=1.3pt, line width=0.6pt,
    font=\vf\fontsize{8}{9}\selectfont},
  vbox/.style={signal, signal to=west, signal pointer angle=100, fill=white,
    inner sep=1pt, line width=0.7pt, font=\vf\fontsize{9}{10}\selectfont, anchor=west},
}

\begin{document}
\begin{tikzpicture}
\useasboundingbox (0pt,0pt) rectangle (700pt,-603pt);

% ---------- header ----------
\begin{scope}[x=1pt,y=-1pt]
\node[anchor=base west, inner sep=0, font=\bfseries\fontsize{13}{15}\selectfont] at (34,18) {\$GOLD:\$PLAT};
\node[anchor=base west, inner sep=0, font=\fontsize{10}{12}\selectfont] at (129,18) {Gold - Continuous Contract (EOD)/Platinum - Continuous Contract (EOD)\hspace{5pt}{\fontsize{7.5}{9}\selectfont CME}};
\node[anchor=base east, inner sep=0, text=gray, font=\vf\fontsize{9}{11}\selectfont] at (655,16) {© StockCharts.com};
\draw[gray!50, line width=0.6pt] (38,19) rectangle (656,90);
\begin{scope}[every node/.style={anchor=base west, inner sep=0, font=\fontsize{10}{12}\selectfont}]
\node at (42,43.5) {Open:};  \node at (42,58) {High:}; \node at (42,72.5) {Low:}; \node at (42,87) {Prev Close:};
\node at (149,43.5) {Ask:};  \node at (149,58) {Ask Size:}; \node at (149,72.5) {Bid:}; \node at (149,87) {Bid Size:};
\node at (227,43.5) {P/E:};  \node at (227,58) {EPS:}; \node at (227,72.5) {Last Size:}; \node at (227,87) {VWAP:};
\node at (311,43.5) {Options:};  \node at (311,58) {Annual Dividend:}; \node at (311,72.5) {Yield:}; \node at (311,87) {SCTR:};
\node at (581,58) {Chg:}; \node at (581,72.5) {Last:}; \node at (581,87) {Volume:};
\end{scope}
\begin{scope}[every node/.style={anchor=base east, inner sep=0, font=\bfseries\fontsize{10.5}{12}\selectfont}]
\node at (134,43.5) {1.693}; \node at (134,58) {1.695}; \node at (134,72.5) {1.682}; \node at (134,87) {1.671};
\node at (415,43.5) {no}; \node at (415,58) {N/A}; \node at (415,72.5) {N/A};
\node at (648,58) {+0.019}; \node at (648,72.5) {1.690}; \node at (648,87) {11};
\end{scope}
\node[anchor=base east, inner sep=0, font=\fontsize{10}{12}\selectfont] at (648,29.5) {Monday\ \ 17-Jun-2019};
\node[anchor=base east, inner sep=0, text=upGreen, font=\bfseries\fontsize{14}{16}\selectfont] at (648,46) {{\vf\fontsize{13}{14}\selectfont ▲}\,+1.15\%};
\end{scope}

% ---------- RSI panel ----------
\begin{axis}[panel, at={(38pt,-91pt)}, anchor=north west, height=97pt,
  ymin=-5.3, ymax=108.8, ytick={10,30,50,70,90}, yticklabels={10,30,50,,90},
  minor ytick={0,20,40,60,80,100}, yminorgrids, xticklabels={}]
\addplot[gray!85!black, line width=0.9pt] coordinates {(2008.4,70) (2019.6,70)};
\addplot[gray!85!black, line width=0.9pt] coordinates {(2008.4,30) (2019.6,30)};
\addplot[gray, line width=0.7pt, dash dot] coordinates {(2008.4,50) (2019.6,50)};
\addplot[black, line width=0.75pt] table[x=x,y=y] {\rsi};
\end{axis}

% ---------- volume (behind price) ----------
\begin{axis}[scale only axis, width=618pt, height=283pt, at={(38pt,-190pt)}, anchor=north west,
  xmin=2008.463, xmax=2019.524, ymin=0, ymax=2112,
  axis line style={draw=none}, xtick=\empty, tick style={draw=none},
  ytick={100,200,300,400,500,600}, yticklabels={100,200,300,400,500,600},
  ticklabel style={font=\vf\fontsize{9}{10}\selectfont},
  /pgf/number format/assume math mode=true]
\addplot[ybar interval, fill=volPink, draw=none] table[x=x,y=y] {\vol};
\addplot[ybar, bar width=1.2pt, fill=volGray, draw=none] table[x=x,y=y] {\volg};
\end{axis}

% ---------- price panel ----------
\begin{axis}[panel, at={(38pt,-190pt)}, anchor=north west, height=283pt,
  ymode=log, ymin=0.386, ymax=1.877,
  ytick={0.4,0.5,0.6,0.7,0.8,0.9,1.0,1.1,1.2,1.3,1.4,1.5,1.6},
  yticklabels={0.40,0.50,0.60,0.70,0.80,0.90,1.00,1.10,1.20,1.30,1.40,,1.60},
  yticklabel style={yshift=1pt},
  xticklabels={2009,2010,2011,2012,2013,2014,2015,2016,2017,2018,2019}]
\addplot[pxRed, line width=2pt] table[x=x,y=y] {\price};
\addplot[black, line width=0.35pt] table[x=x,y=y] {\price};
\addplot[maRed, line width=0.9pt] table[x=x,y=y] {\mat};
\addplot[maBlue, line width=0.9pt] table[x=x,y=y] {\maf};
\node[ann] at (axis cs:2008.95,1.056) {1.004};
\node[ann] at (axis cs:2009.00,0.790) {0.843};
\node[ann] at (axis cs:2009.27,0.672) {0.716};
\node[ann] at (axis cs:2009.52,0.871) {0.826};
\node[ann] at (axis cs:2010.28,0.612) {0.655};
\node[ann] at (axis cs:2010.88,0.880) {0.832};
\node[ann] at (axis cs:2011.09,0.680) {0.728};
\node[ann] at (axis cs:2012.00,1.207) {1.147};
\node[ann] at (axis cs:2012.61,1.219) {1.161};
\node[ann] at (axis cs:2012.18,0.917) {0.979};
\node[ann] at (axis cs:2014.03,0.798) {0.847};
\node[ann] at (axis cs:2016.07,1.419) {1.344};
\node[ann] at (axis cs:2016.37,1.108) {1.191};
\node[ann] at (axis cs:2016.82,1.438) {1.360};
\node[ann] at (axis cs:2017.08,1.121) {1.201};
\node[ann] at (axis cs:2019.11,1.758) {1.668};
\node[ann] at (axis cs:2019.29,1.318) {1.412};
\end{axis}

% ---------- MACD panel ----------
\begin{axis}[panel, at={(38pt,-489pt)}, anchor=north west, height=97pt,
  ymin=-0.0471, ymax=0.0781,
  ytick={-0.04,-0.02,0,0.02,0.04,0.06},
  yticklabels={-0.04,-0.02,,0.02,,0.06},
  xticklabels={2009,2010,2011,2012,2013,2014,2015,2016,2017,2018,2019}]
\addplot[ybar, bar width=1.6pt, fill=histc, draw=none] table[x=x,y=y] {\hist};
\addplot[sigRed, line width=0.8pt] table[x=x,y=y] {\sig};
\addplot[black, line width=1.1pt] table[x=x,y=y] {\macd};
\end{axis}

% ---------- legends and value boxes ----------
\begin{scope}[x=1pt,y=-1pt]
\fill[gray!70!black] (40,101) -- (41.5,96) -- (43,99) -- (44.5,95) -- (46.5,101) -- cycle;
\node[anchor=base west, inner sep=0, font=\vmono\fontsize{10}{12}\selectfont] at (48,102) {RSI(14) 70.38};
\draw[black, line width=2pt] (40,196) -- (46,196);
\node[anchor=base west, inner sep=0, font=\vmono\fontsize{10.3}{12}\selectfont] at (48,199.5) {\$GOLD:\$PLAT (Daily) 1.69};
\draw[maBlue, line width=1.6pt] (40,207.5) -- (49,207.5);
\node[anchor=base west, inner sep=0, text=maBlue, font=\vf\fontsize{9}{11}\selectfont] at (50,211) {MA(50) 1.53};
\draw[maRed, line width=1.6pt] (40,218.5) -- (49,218.5);
\node[anchor=base west, inner sep=0, text=maRed, font=\vf\fontsize{9}{11}\selectfont] at (50,222) {MA(200) 1.53};
\fill[gray!80!black] (40,233) rectangle (41.3,228) (42,233) rectangle (43.3,226.5) (44,233) rectangle (45.3,229) (46,233) rectangle (47.3,227.5);
\node[anchor=base west, inner sep=0, text=gray!80!black, font=\vf\fontsize{9}{11}\selectfont] at (49,233) {Volume 11};
\draw[black, line width=2pt] (40,495.5) -- (46,495.5);
\node[anchor=base west, inner sep=0, font=\vmono\fontsize{10}{12}\selectfont] at (48,499) {MACD(12,26,9) 0.039, \textcolor{sigRed}{0.039}, \textcolor{zeroBlue}{0.000}};
\node[vbox, draw=black] at (657,124) {70.38};
\node[vbox, draw=black, line width=1pt, font=\vf\bfseries\fontsize{9.5}{10}\selectfont] at (657,207) {1.69};
\node[vbox, draw=maBlue] at (657,229) {1.53};
\node[vbox, draw=black, font=\vf\fontsize{8.5}{9}\selectfont] at (657,475.5) {11};
\node[vbox, draw=black] at (657,519) {0.039};
\node[vbox, draw=histc] at (657,550) {0.000};
\end{scope}
\end{tikzpicture}
\end{document}
